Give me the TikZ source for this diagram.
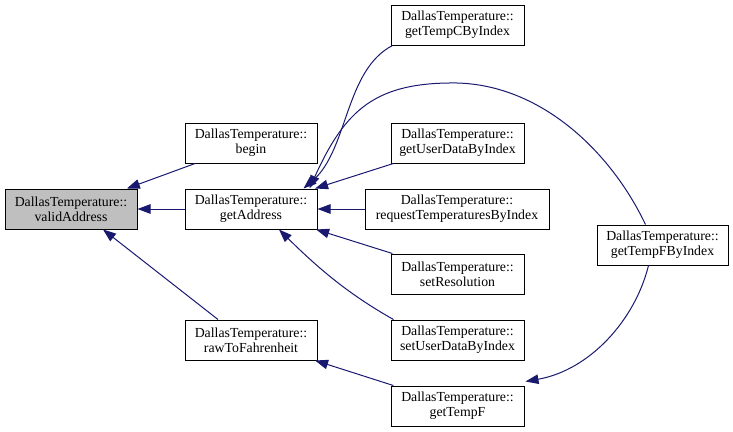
\documentclass[tikz,border=0pt]{standalone}
\usepackage{fontspec}
\setmainfont{Liberation Serif}
\usetikzlibrary{arrows.meta}
\definecolor{edgeblue}{HTML}{191970}
\definecolor{hl}{HTML}{BFBFBF}
\tikzset{
  fn/.style={draw=black, line width=1pt, fill=white, minimum height=40pt, inner sep=0pt, align=center,
    font=\fontsize{13.8}{15}\selectfont},
  cur/.style={fn, fill=hl},
  edge/.style={draw=edgeblue, line width=1pt, -{Triangle[length=13pt,width=9.5pt]}, shorten >=0pt}
}
\begin{document}
\begin{tikzpicture}[x=1pt,y=-1pt]
\useasboundingbox (0,0) rectangle (733,431);
\node[cur, minimum width=132pt] (va) at (71,209) {DallasTemperature::\\validAddress};
\node[fn, minimum width=132pt] (begin) at (251,143) {DallasTemperature::\\begin};
\node[fn, minimum width=132pt] (ga) at (251,209) {DallasTemperature::\\getAddress};
\node[fn, minimum width=132pt] (rtf) at (251,340) {DallasTemperature::\\rawToFahrenheit};
\node[fn, minimum width=133pt] (gtc) at (457.5,25) {DallasTemperature::\\getTempCByIndex};
\node[fn, minimum width=133pt] (gud) at (457.5,143) {DallasTemperature::\\getUserDataByIndex};
\node[fn, minimum width=184pt] (rti) at (457,209) {DallasTemperature::\\requestTemperaturesByIndex};
\node[fn, minimum width=133pt] (sr) at (457.5,274) {DallasTemperature::\\setResolution};
\node[fn, minimum width=133pt] (sud) at (457.5,340) {DallasTemperature::\\setUserDataByIndex};
\node[fn, minimum width=133pt] (gtf) at (457.5,406) {DallasTemperature::\\getTempF};
\node[fn, minimum width=131pt] (gtfi) at (662.5,245) {DallasTemperature::\\getTempFByIndex};

\draw[edge] (begin) -- (va);
\draw[edge] (ga) -- (va);
\draw[edge] ([xshift=-33pt]rtf.north) -- ([xshift=32pt]va.south);
\draw[edge] ([xshift=2pt]gtc.south west) .. controls (345,70) and (348,150) .. ([xshift=-14pt]ga.north east);
\draw[edge] ([xshift=-17pt]gtfi.north) .. controls (610,150) and (540,85) .. (457,83)
   .. controls (375,82) and (345,110) .. ([xshift=-8pt]ga.north east);
\draw[edge] (gud) -- (ga);
\draw[edge] (rti) -- (ga);
\draw[edge] (sr) -- (ga);
\draw[edge] ([xshift=3pt]sud.north west) .. controls (350,295) and (320,270) .. ([xshift=28pt]ga.south);
\draw[edge] (gtf) -- (rtf);
\draw[edge] ([xshift=-14pt]gtfi.south) .. controls (635,320) and (590,370) .. ([xshift=1pt,yshift=4pt]gtf.north east);
\end{tikzpicture}
\end{document}
